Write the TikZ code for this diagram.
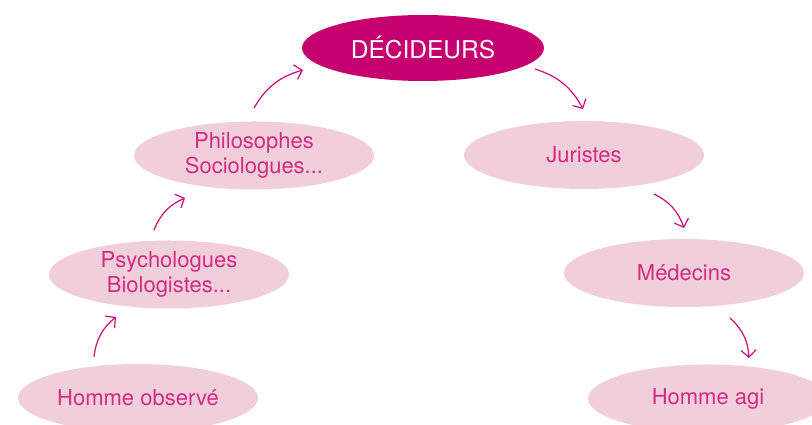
\documentclass[tikz,border=0pt]{standalone}
\usepackage{fontspec}
\setmainfont{TeX Gyre Heros}
\usetikzlibrary{shapes.geometric,arrows.meta}
\definecolor{darkmag}{HTML}{C6006E}
\definecolor{lightpink}{HTML}{F0CFDB}
\definecolor{txtpink}{HTML}{D42A83}
\definecolor{arrmag}{HTML}{CC0A7A}
\begin{document}
\begin{tikzpicture}[x=1pt,y=1pt,
  oval/.style={ellipse, fill=lightpink, draw=none, minimum width=240pt, minimum height=68pt,
    inner sep=0pt, text=txtpink, font=\fontsize{22}{25}\selectfont, align=center},
  topoval/.style={oval, fill=darkmag, text=white, minimum width=242pt, minimum height=66pt,
    font=\fontsize{24.5}{28}\selectfont},
  arr/.style={draw=arrmag, line width=1.2pt, -{Straight Barb[length=7pt,width=15pt,line width=1.2pt]}}]
\useasboundingbox (0,0) rectangle (812,425);
\node[topoval] (dec) at (423,377) {DÉCIDEURS};
\node[oval] (phil) at (254,269.5) {Philosophes\\Sociologues...};
\node[oval] (jur) at (584,270) {Juristes};
\node[oval] (psy) at (169,150.5) {Psychologues\\Biologistes...};
\node[oval] (med) at (684,152) {Médecins};
\node[oval] (hobs) at (138,27) {Homme observé};
\node[oval] (hagi) at (708,26.5) {Homme agi};
\coordinate (a1s) at (254,317); \coordinate (a1e) at (303,355);
\coordinate (a2s) at (535,356); \coordinate (a2e) at (583,316);
\coordinate (a3s) at (154,195); \coordinate (a3e) at (185,227);
\coordinate (a4s) at (94,68);  \coordinate (a4e) at (116,108);
\coordinate (a5s) at (654,231); \coordinate (a5e) at (684,197);
\coordinate (a6s) at (730,107); \coordinate (a6e) at (749,67);
\draw[arr] (a1s) to[bend left=22] (a1e);
\draw[arr] (a2s) to[bend left=22] (a2e);
\draw[arr] (a3s) to[bend left=22] (a3e);
\draw[arr] (a4s) to[bend left=22] (a4e);
\draw[arr] (a5s) to[bend left=22] (a5e);
\draw[arr] (a6s) to[bend left=22] (a6e);
\end{tikzpicture}
\end{document}
